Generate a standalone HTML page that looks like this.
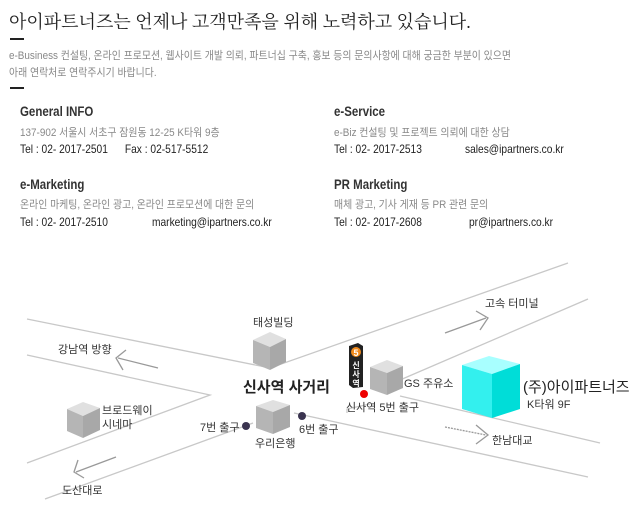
<!DOCTYPE html>
<html><head><meta charset="utf-8"><style>
body{margin:0;width:634px;height:515px;background:#fff;overflow:hidden;position:relative;font-family:"Liberation Sans","Noto Sans CJK KR",sans-serif;}
.t{position:absolute;white-space:nowrap;transform-origin:0 0;}
.h{font-size:14px;font-weight:bold;color:#333;transform:scaleX(0.82);}
.g{font-size:11px;color:#888;transform:scaleX(0.9);}
.k{font-size:12px;color:#222;transform:scaleX(0.85);}
</style></head><body>
<div class="t" style="left:9px;top:8px;font-size:18px;color:#222;font-family:'Liberation Serif','Noto Serif CJK SC',serif;">아이파트너즈는 언제나 고객만족을 위해 노력하고 있습니다.</div>
<div style="position:absolute;left:10px;top:38px;width:14px;height:2px;background:#222"></div>
<div class="t g" style="left:9px;top:47px;">e-Business 컨설팅, 온라인 프로모션, 웹사이트 개발 의뢰, 파트너십 구축, 홍보 등의 문의사항에 대해 궁금한 부분이 있으면</div>
<div class="t g" style="left:9px;top:64px;">아래 연락처로 연락주시기 바랍니다.</div>
<div style="position:absolute;left:10px;top:87px;width:14px;height:2px;background:#222"></div>

<div class="t h" style="left:20px;top:103px;">General INFO</div>
<div class="t g" style="left:20px;top:124px;">137-902 서울시 서초구 잠원동 12-25 K타워 9층</div>
<div class="t k" style="left:20px;top:142px;">Tel : 02- 2017-2501 &nbsp;&nbsp;&nbsp;&nbsp; Fax : 02-517-5512</div>
<div class="t h" style="left:334px;top:103px;">e-Service</div>
<div class="t g" style="left:334px;top:124px;">e-Biz 컨설팅 및 프로젝트 의뢰에 대한 상담</div>
<div class="t k" style="left:334px;top:142px;">Tel : 02- 2017-2513</div>
<div class="t k" style="left:465px;top:142px;">sales@ipartners.co.kr</div>
<div class="t h" style="left:20px;top:176px;">e-Marketing</div>
<div class="t g" style="left:20px;top:196px;">온라인 마케팅, 온라인 광고, 온라인 프로모션에 대한 문의</div>
<div class="t k" style="left:20px;top:215px;">Tel : 02- 2017-2510</div>
<div class="t k" style="left:152px;top:215px;">marketing@ipartners.co.kr</div>
<div class="t h" style="left:334px;top:176px;">PR Marketing</div>
<div class="t g" style="left:334px;top:196px;">매체 광고, 기사 게재 등 PR 관련 문의</div>
<div class="t k" style="left:334px;top:215px;">Tel : 02- 2017-2608</div>
<div class="t k" style="left:469px;top:215px;">pr@ipartners.co.kr</div>

<svg width="634" height="515" style="position:absolute;left:0;top:0" font-family="Liberation Sans, Noto Sans CJK KR, sans-serif">
<g stroke="#c8c8c8" stroke-width="1.3" fill="none">
<polyline points="27,319 270,368 568,263"/>
<polyline points="27,355 210,395 27,463"/>
<line x1="45" y1="499" x2="253" y2="423"/>
<line x1="294" y1="413" x2="588" y2="477"/>
<polyline points="347,413 347,409 370,404"/>
<line x1="400" y1="380" x2="588" y2="299"/>
<line x1="400" y1="396" x2="600" y2="443"/>
</g>
<g stroke="#999" stroke-width="1.3" fill="none">
<line x1="445" y1="333" x2="486" y2="318"/><polyline points="476,311 488,318 480,330"/>
<line x1="158" y1="368" x2="118" y2="358"/><polyline points="126,350 116,358 123,370"/>
<line x1="445" y1="427" x2="486" y2="435" stroke-dasharray="2,1"/><polyline points="476,425 488,435 476,444"/>
<line x1="116" y1="457" x2="76" y2="472"/><polyline points="78,460 74,472 84,478"/>
</g>
<g>
<polygon points="253,340 270,332 286,339 270,347" fill="#e0e0e0"/><polygon points="253,340 270,347 270,370 253,363" fill="#b5b5b5"/><polygon points="270,347 286,339 286,362 270,370" fill="#a8a8a8"/>
<polygon points="67,409 83,402 100,408 83,416" fill="#e0e0e0"/><polygon points="67,409 83,416 83,438 67,431" fill="#b5b5b5"/><polygon points="83,416 100,408 100,430 83,438" fill="#a8a8a8"/>
<polygon points="256,406 273,400 290,405 273,412" fill="#e0e0e0"/><polygon points="256,406 273,412 273,434 256,428" fill="#b5b5b5"/><polygon points="273,412 290,405 290,427 273,434" fill="#a8a8a8"/>
<polygon points="370,367 387,360 403,366 387,373" fill="#e0e0e0"/><polygon points="370,367 387,373 387,395 370,389" fill="#b5b5b5"/><polygon points="387,373 403,366 403,388 387,395" fill="#a8a8a8"/>
<polygon points="462,365 489,356 520,364 492,374" fill="#a8ffff"/><polygon points="462,365 492,374 492,418 462,409" fill="#33f0ee"/><polygon points="492,374 520,364 520,409 492,418" fill="#00ddd8"/>
</g>
<polygon points="349,346 358,343 363,346 363,387 353,388 349,385" fill="#222"/>
<circle cx="356" cy="352" r="5" fill="#f08a1c"/>
<text x="356" y="356" font-size="9" fill="#fff" font-weight="bold" text-anchor="middle">5</text>
<text x="356" y="368" font-size="8" fill="#fff" font-weight="bold" text-anchor="middle">신</text>
<text x="356" y="377" font-size="8" fill="#fff" font-weight="bold" text-anchor="middle">사</text>
<text x="356" y="386" font-size="8" fill="#fff" font-weight="bold" text-anchor="middle">역</text>
<circle cx="364" cy="394" r="4" fill="#e00"/>
<circle cx="246" cy="426" r="4" fill="#3a3450"/>
<circle cx="302" cy="416" r="4" fill="#3a3450"/>
<g font-size="11" fill="#333">
<text x="253" y="326">태성빌딩</text>
<text x="58" y="353">강남역 방향</text>
<text x="102" y="414">브로드웨이</text>
<text x="102" y="428">시네마</text>
<text x="200" y="431">7번 출구</text>
<text x="255" y="447">우리은행</text>
<text x="299" y="433">6번 출구</text>
<text x="346" y="411">신사역 5번 출구</text>
<text x="404" y="387">GS 주유소</text>
<text x="527" y="408">K타워 9F</text>
<text x="485" y="307">고속 터미널</text>
<text x="492" y="444">한남대교</text>
<text x="62" y="494">도산대로</text>
</g>
<text x="243" y="392" font-size="15" fill="#222" font-weight="bold">신사역 사거리</text>
<text x="523" y="392" font-size="15" fill="#222">(주)아이파트너즈</text>
</svg>
</body></html>
